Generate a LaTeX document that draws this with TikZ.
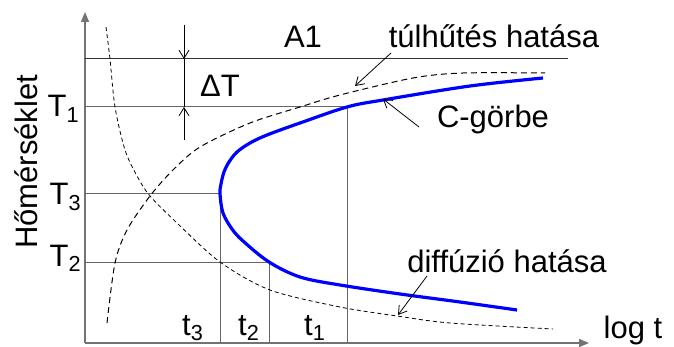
\documentclass[tikz,border=0pt]{standalone}
\usepackage{fontspec}
\setmainfont{Liberation Sans}
\usetikzlibrary{arrows.meta}
\tikzset{
  axis/.style={draw=black!55, line width=0.6pt, -{Triangle[length=5pt,width=4pt]}},
  guide/.style={draw=black!60, line width=0.5pt},
  ccurve/.style={draw=blue, line width=1.6pt},
  coolcurve/.style={draw=black, line width=0.5pt, dash pattern=on 3pt off 2pt},
  diffcurve/.style={draw=black, line width=0.4pt, dash pattern=on 2pt off 1.5pt},
  leader/.style={draw=black, line width=0.4pt, -{Straight Barb[length=4pt,width=5pt]}},
  lbl/.style={font=\fontsize{15.5}{18}\selectfont, inner sep=0pt},
}

\begin{document}
\begin{tikzpicture}[x=0.5pt, y=-0.5pt]
\useasboundingbox (0,0) rectangle (674,347);

% --- axes ---
\coordinate (O) at (85,343);
\coordinate (ytip) at (85,12);
\coordinate (xtip) at (589,343);
\draw[axis] (O) -- (ytip);
\draw[axis] (O) -- (xtip);

% --- A1 and the temperature levels ---
\coordinate (a1L) at (85,59);   \coordinate (a1R) at (568,59);
\coordinate (t1L) at (85,107);  \coordinate (t1C) at (347,107);
\coordinate (t3L) at (85,194);  \coordinate (t3C) at (220,194);
\coordinate (t2L) at (85,262);  \coordinate (t2C) at (269,262);
\draw[guide, draw=black!80] (a1L) -- (a1R);
\draw[guide] (t1L) -- (t1C) -- (t1C |- O);
\draw[guide] (t3L) -- (t3C) -- (t3C |- O);
\draw[guide] (t2L) -- (t2C) -- (t2C |- O);

% --- undercooling Delta T ---
\coordinate (dTtop) at (184,25);
\coordinate (dTa) at (184,59);
\coordinate (dTb) at (184,107);
\coordinate (dTbot) at (184,140);
\draw[leader] (dTtop) -- (dTa);
\draw[draw=black, line width=0.4pt] (dTa) -- (dTb);
\draw[leader] (dTbot) -- (dTb);

% --- dashed curves ---
\draw[coolcurve] plot[smooth] coordinates {(107,323) (115,263) (127,230) (150,196)
  (173,170) (200,147) (250,123) (300,107) (340,95) (413,78) (463,73) (545,73)};
\draw[diffcurve] plot[smooth] coordinates {(106,27) (110,59) (115,107) (125,150)
  (137,176) (150,196) (177,223) (220,262) (270,290) (340,307) (397,316) (450,323) (553,329)};

% --- C curve ---
\draw[ccurve] plot[smooth, tension=0.55] coordinates {(543,78) (470,86) (383,100) (347,107)
  (300,123) (267,135) (250,143) (237,152) (229,162) (224,172) (221,184) (220,194)
  (223,213) (232,229) (243,241) (269,262) (300,277) (340,285) (400,294) (460,302) (517,310)};

% --- labels ---
\node[lbl, anchor=base] (A1) at (303,48) {A1};
\node[lbl, anchor=base] (dT) at (220,97) {ΔT};
\node[lbl, anchor=base east] (T1) at (80,117) {T\textsubscript{1}};
\node[lbl, anchor=base east] (T3) at (82,205) {T\textsubscript{3}};
\node[lbl, anchor=base east] (T2) at (82,266) {T\textsubscript{2}};
\node[lbl, anchor=base] (t3) at (193,335) {t\textsubscript{3}};
\node[lbl, anchor=base] (t2) at (249,335) {t\textsubscript{2}};
\node[lbl, anchor=base] (t1) at (315,335) {t\textsubscript{1}};
\node[lbl, anchor=base] (logt) at (633,338) {log t};
\node[lbl, anchor=base, rotate=90] (ylab) at (37,162) {Hőmérséklet};
\node[lbl, anchor=base] (tulh) at (494,48) {túlhűtés hatása};
\node[lbl, anchor=base] (cgorbe) at (493,128) {C-görbe};
\node[lbl, anchor=base] (diff) at (507,272) {diffúzió hatása};

% --- leaders ---
\coordinate (tulhS) at (391,53);   \coordinate (tulhE) at (355,86);
\coordinate (cgS) at (419,127);    \coordinate (cgE) at (383,99);
\coordinate (diffS) at (427,276);  \coordinate (diffE) at (398,315);
\draw[leader] (tulhS) -- (tulhE);
\draw[leader] (cgS) -- (cgE);
\draw[leader] (diffS) -- (diffE);

\end{tikzpicture}
\end{document}
